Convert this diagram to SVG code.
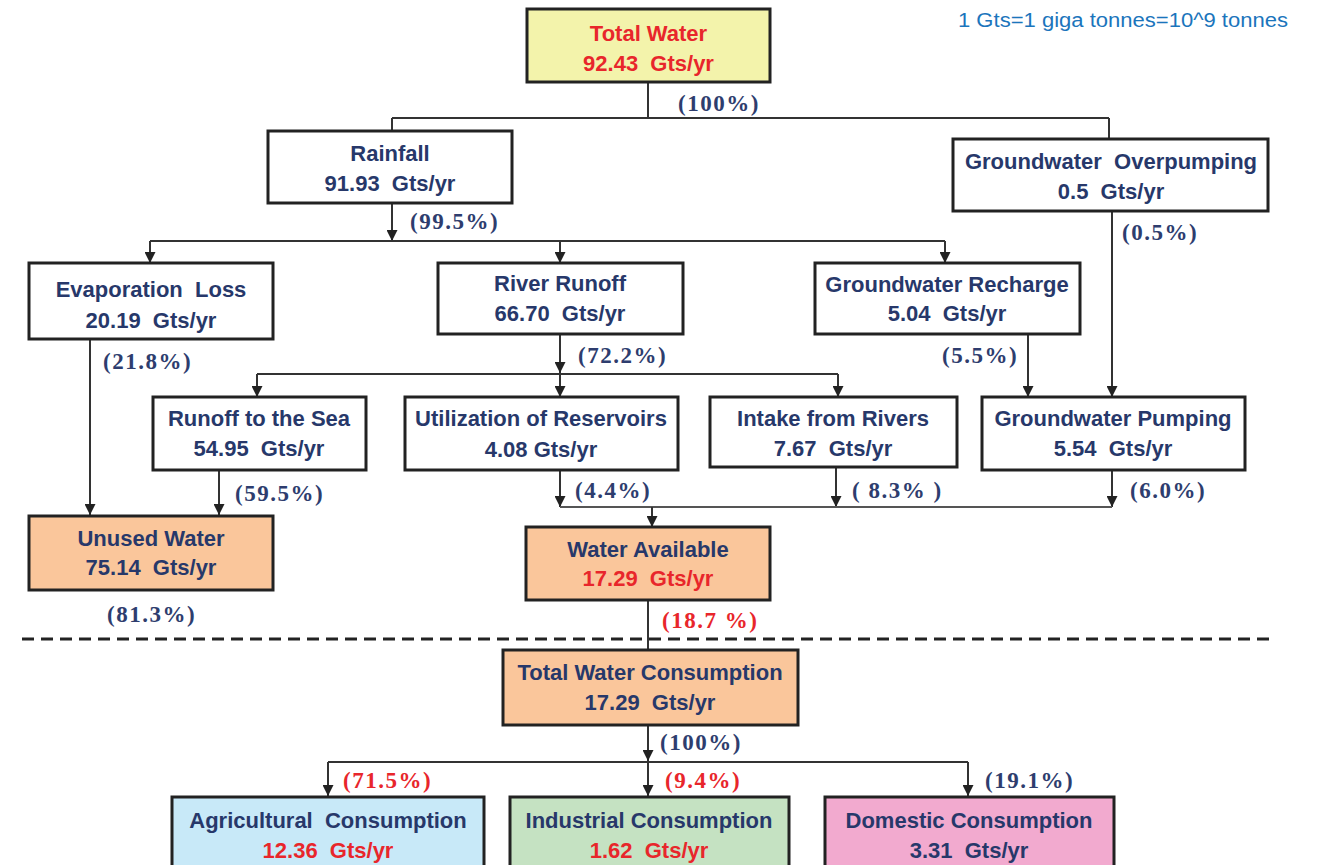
<svg xmlns="http://www.w3.org/2000/svg" width="1333" height="865" viewBox="0 0 1333 865">
<style>
.box{stroke:#222;stroke-width:3}
.w{fill:#fff}.y{fill:#F3F3AB}.pe{fill:#FAC69B}.bl{fill:#C8E9F8}.gr{fill:#C5E2C2}.pk{fill:#F2AACF}
.t{font-family:"Liberation Sans",Arial,sans-serif;font-weight:bold;font-size:22px;text-anchor:middle;fill:#27386A;white-space:pre}
.red{fill:#E8262B}
.p{font-family:"Liberation Serif","Times New Roman",serif;font-weight:bold;font-size:23px;fill:#2E3D6E;letter-spacing:1.5px;white-space:pre}
.pr{fill:#E8262B}
.c{fill:none;stroke:#333;stroke-width:2}
.note{font-family:"Liberation Sans",Arial,sans-serif;font-size:20px;fill:#1B75BC}
</style>
<defs>
<marker id="ah" viewBox="0 0 11 11" refX="11" refY="5.5" markerWidth="11" markerHeight="11" markerUnits="userSpaceOnUse" orient="auto">
<path d="M0,0 L11,5.5 L0,11 z" fill="#222"/>
</marker>
</defs>
<rect width="1333" height="865" fill="#fff"/>
<text class="note" x="958" y="27" textLength="330" lengthAdjust="spacingAndGlyphs">1 Gts=1 giga tonnes=10^9 tonnes</text>

<g id="connectors">
<path class="c" d="M648,82 V118 M392,118 H1109 M392,118 V131 M1109,118 V139"/>
<path class="c" d="M392,203 V241" marker-end="url(#ah)"/>
<path class="c" d="M150,241 H945"/>
<path class="c" d="M150,241 V263" marker-end="url(#ah)"/>
<path class="c" d="M560,241 V263" marker-end="url(#ah)"/>
<path class="c" d="M945,241 V263" marker-end="url(#ah)"/>
<path class="c" d="M1112,211 V397" marker-end="url(#ah)"/>
<path class="c" d="M560,334 V373" marker-end="url(#ah)"/>
<path class="c" d="M257,374 H838"/>
<path class="c" d="M257,374 V397" marker-end="url(#ah)"/>
<path class="c" d="M560,374 V397" marker-end="url(#ah)"/>
<path class="c" d="M838,374 V397" marker-end="url(#ah)"/>
<path class="c" d="M1028,334 V397" marker-end="url(#ah)"/>
<path class="c" d="M90,339 V515" marker-end="url(#ah)"/>
<path class="c" d="M219,470 V515" marker-end="url(#ah)"/>
<path class="c" d="M560,470 V507" marker-end="url(#ah)"/>
<path class="c" d="M836,467 V507" marker-end="url(#ah)"/>
<path class="c" d="M1112,470 V507" marker-end="url(#ah)"/>
<path class="c" d="M560,507 H1112" style="stroke:#555"/>
<path class="c" d="M652,507 V527" marker-end="url(#ah)"/>
<path class="c" d="M648,600 V650"/>
<path class="c" d="M648,725 V761" marker-end="url(#ah)"/>
<path class="c" d="M328,762 H968"/>
<path class="c" d="M328,762 V796" marker-end="url(#ah)"/>
<path class="c" d="M648,762 V796" marker-end="url(#ah)"/>
<path class="c" d="M968,762 V796" marker-end="url(#ah)"/>
<path d="M22,639 H1270" fill="none" stroke="#222" stroke-width="3" stroke-dasharray="12 7"/>
<text class="p" x="678" y="111">(100%)</text>
<text class="p" x="410" y="229">(99.5%)</text>
<text class="p" x="1122" y="240">(0.5%)</text>
<text class="p" x="103" y="369">(21.8%)</text>
<text class="p" x="578" y="363">(72.2%)</text>
<text class="p" x="942" y="363">(5.5%)</text>
<text class="p" x="235" y="501">(59.5%)</text>
<text class="p" x="575" y="498">(4.4%)</text>
<text class="p" x="852" y="498">( 8.3% )</text>
<text class="p" x="1130" y="498">(6.0%)</text>
<text class="p" x="107" y="622">(81.3%)</text>
<text class="p pr" x="662" y="628">(18.7 %)</text>
<text class="p" x="660" y="750">(100%)</text>
<text class="p pr" x="343" y="788">(71.5%)</text>
<text class="p pr" x="665" y="788">(9.4%)</text>
<text class="p" x="985" y="788">(19.1%)</text>
</g>

<g id="total-water">
<rect class="box y" x="527" y="9" width="243" height="73"/>
<text class="t red" x="648.5" y="41">Total Water</text>
<text class="t red" x="648.5" y="71">92.43  Gts/yr</text>
</g>
<g id="rainfall">
<rect class="box w" x="268" y="131" width="244" height="72"/>
<text class="t" x="390" y="161">Rainfall</text>
<text class="t" x="390" y="191">91.93  Gts/yr</text>
</g>
<g id="groundwater-overpumping">
<rect class="box w" x="953" y="139" width="315" height="72"/>
<text class="t" x="1111" y="169">Groundwater  Overpumping</text>
<text class="t" x="1111" y="199">0.5  Gts/yr</text>
</g>
<g id="evaporation-loss">
<rect class="box w" x="29" y="263" width="244" height="76"/>
<text class="t" x="151" y="297">Evaporation  Loss</text>
<text class="t" x="151" y="328">20.19  Gts/yr</text>
</g>
<g id="river-runoff">
<rect class="box w" x="438" y="263" width="245" height="71"/>
<text class="t" x="560" y="291">River Runoff</text>
<text class="t" x="560" y="321">66.70  Gts/yr</text>
</g>
<g id="groundwater-recharge">
<rect class="box w" x="815" y="263" width="265" height="71"/>
<text class="t" x="947" y="292">Groundwater Recharge</text>
<text class="t" x="947" y="321">5.04  Gts/yr</text>
</g>
<g id="runoff-to-sea">
<rect class="box w" x="153" y="397" width="213" height="73"/>
<text class="t" x="259" y="426">Runoff to the Sea</text>
<text class="t" x="259" y="456">54.95  Gts/yr</text>
</g>
<g id="utilization-of-reservoirs">
<rect class="box w" x="405" y="397" width="273" height="73"/>
<text class="t" x="541" y="426">Utilization of Reservoirs</text>
<text class="t" x="541" y="457">4.08 Gts/yr</text>
</g>
<g id="intake-from-rivers">
<rect class="box w" x="710" y="397" width="247" height="70"/>
<text class="t" x="833" y="426">Intake from Rivers</text>
<text class="t" x="833" y="456">7.67  Gts/yr</text>
</g>
<g id="groundwater-pumping">
<rect class="box w" x="982" y="397" width="263" height="73"/>
<text class="t" x="1113" y="426">Groundwater Pumping</text>
<text class="t" x="1113" y="456">5.54  Gts/yr</text>
</g>
<g id="unused-water">
<rect class="box pe" x="29" y="516" width="244" height="74"/>
<text class="t" x="151" y="546">Unused Water</text>
<text class="t" x="151" y="575">75.14  Gts/yr</text>
</g>
<g id="water-available">
<rect class="box pe" x="526" y="527" width="244" height="73"/>
<text class="t" x="648" y="557">Water Available</text>
<text class="t red" x="648" y="586">17.29  Gts/yr</text>
</g>
<g id="total-water-consumption">
<rect class="box pe" x="503" y="650" width="295" height="75"/>
<text class="t" x="650" y="680">Total Water Consumption</text>
<text class="t" x="650" y="710">17.29  Gts/yr</text>
</g>
<g id="agricultural-consumption">
<rect class="box bl" x="172" y="797" width="312" height="80"/>
<text class="t" x="328" y="828">Agricultural  Consumption</text>
<text class="t red" x="328" y="858">12.36  Gts/yr</text>
</g>
<g id="industrial-consumption">
<rect class="box gr" x="510" y="797" width="279" height="80"/>
<text class="t" x="649" y="828">Industrial Consumption</text>
<text class="t red" x="649" y="858">1.62  Gts/yr</text>
</g>
<g id="domestic-consumption">
<rect class="box pk" x="825" y="797" width="289" height="80"/>
<text class="t" x="969" y="828">Domestic Consumption</text>
<text class="t" x="969" y="858">3.31  Gts/yr</text>
</g>
</svg>
